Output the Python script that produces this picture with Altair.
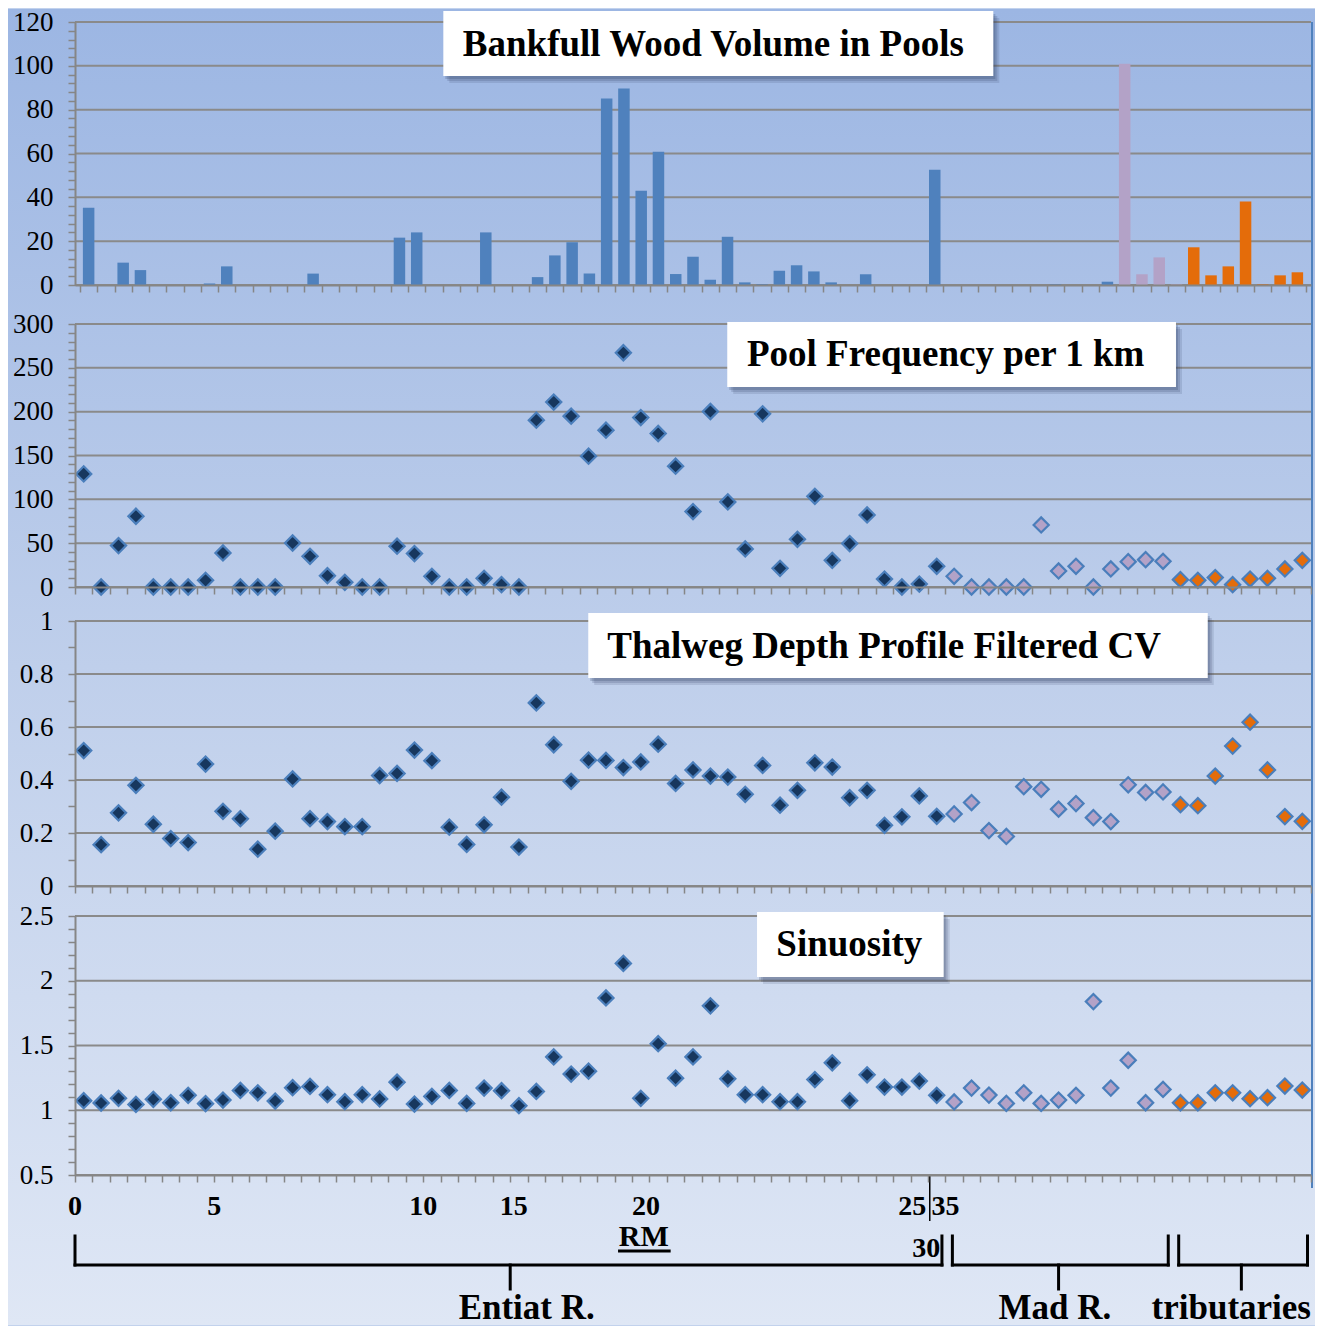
import altair as alt
import pandas as pd

# ---------------- data ----------------
N = 71
groups = ["Entiat R.", "Mad R.", "tributaries"]
group_counts = [50, 13, 8]          # points in panels 2-4
wood_group_counts = [60, 4, 7]      # bar colouring in panel 1

wood = [35.3, 0, 10.2, 6.8, 0, 0, 0, 0.7, 8.5, 0, 0, 0, 0, 5.2, 0, 0, 0, 0, 21.6, 24.0,
        0, 0, 0, 24.0, 0, 0, 3.6, 13.5, 19.5, 5.2, 85.1, 89.7, 43.0, 60.8, 5.0, 12.9, 2.4, 22.0, 1.2, 0.4,
        6.5, 9.0, 6.2, 1.2, 0, 4.9, 0, 0, 0, 52.6, 0, 0, 0, 0, 0, 0, 0.3, 0, 0, 1.5,
        101.0, 4.9, 12.6, 0.3, 17.2, 4.4, 8.5, 38.1, 0.3, 4.4, 5.8]

pools = [129, 0, 47.2, 80.7, 0, 0, 0, 7.6, 38.8, 0, 0, 0, 50.2, 35.0, 12.9, 5.3, 0, 0, 46.5, 38.1,
         12.2, 0, 0, 9.9, 2.7, 0, 190.3, 211, 194.9, 149.2, 178.9, 267.2, 193.3, 175.1, 137.8, 86.0, 200.2, 97.1, 43.4, 197.5,
         21.3, 54.4, 103.5, 30.4, 49.5, 82.2, 9.1, 0, 3.4, 23.6, 12.2, 0, 0, 0, 0, 70.8, 18.3, 23.6, 0, 20.6,
         28.9, 31.2, 29.3, 8.4, 7.6, 10.7, 2.7, 9.1, 9.9, 20.6, 30.4]

cv = [0.511, 0.156, 0.276, 0.380, 0.233, 0.179, 0.164, 0.460, 0.282, 0.254, 0.139, 0.207, 0.404, 0.254, 0.243, 0.224, 0.224, 0.417, 0.425, 0.513,
      0.473, 0.222, 0.157, 0.231, 0.335, 0.147, 0.691, 0.533, 0.395, 0.475, 0.474, 0.447, 0.468, 0.535, 0.387, 0.438, 0.415, 0.411, 0.346, 0.455,
      0.305, 0.361, 0.465, 0.449, 0.333, 0.361, 0.229, 0.261, 0.340, 0.263, 0.272, 0.315, 0.209, 0.187, 0.375, 0.365, 0.290, 0.311, 0.258, 0.243,
      0.382, 0.353, 0.355, 0.307, 0.303, 0.415, 0.528, 0.618, 0.438, 0.262, 0.244]

sinu = [1.074, 1.056, 1.092, 1.045, 1.084, 1.058, 1.115, 1.051, 1.079, 1.153, 1.135, 1.071, 1.174, 1.184, 1.120, 1.066, 1.120, 1.087, 1.217, 1.048,
        1.107, 1.153, 1.053, 1.171, 1.151, 1.035, 1.145, 1.412, 1.279, 1.302, 1.867, 2.134, 1.092, 1.514, 1.248, 1.412, 1.806, 1.243, 1.120, 1.120,
        1.066, 1.066, 1.237, 1.366, 1.074, 1.274, 1.179, 1.179, 1.225, 1.115, 1.064, 1.171, 1.117, 1.053, 1.135, 1.053, 1.079, 1.115, 1.839, 1.171,
        1.386, 1.058, 1.161, 1.058, 1.058, 1.135, 1.135, 1.089, 1.097, 1.187, 1.156]

rm_labels = ["0", "5", "10", "15", "20", "25", "35"]
rm_pos = [0, 8, 20, 25.2, 32.8, 48.1, 50.0]
rm_low_labels = ["30"]
rm_low_pos = [48.9]
rm_break = [49.1]

titles = ["Bankfull Wood Volume in Pools", "Pool Frequency per 1 km",
          "Thalweg Depth Profile Filtered CV", "Sinuosity"]

p1_ticks = list(range(0, 121, 4)); p1_major = list(range(0, 121, 20))
p2_ticks = list(range(0, 301, 10)); p2_major = list(range(0, 301, 50))
p3_ticks = [round(0.1 * k, 1) for k in range(11)]; p3_major = [0, 0.2, 0.4, 0.6, 0.8, 1]
p4_ticks = [round(0.5 + 0.1 * k, 1) for k in range(21)]; p4_major = [0.5, 1, 1.5, 2, 2.5]

# ---------------- style / layout ----------------
W = 1236
RF = 1245.0
GAP = 30
T1, H1 = 19, 263
T2, H2 = 312, 272
T3, H3 = 614, 269
T4, H4 = 913, 259
GRAY = "#868686"
GRID = "#8a8a8a"
EDGE = "#4a7ebb"
FONT = "Liberation Serif"
bar_colors = ["#4f81bd", "#b3a2c7", "#e46c0a"]
pt_colors = ["#17375e", "#b3a2c7", "#e46c0a"]


def X(a):
    return (a - 75) * W / RF


def expand(counts):
    out = []
    for g, c in zip(groups, counts):
        out += [g] * c
    return out


df = pd.DataFrame({"x": [i + 0.5 for i in range(N)], "wood": wood, "pools": pools,
                   "cv": cv, "sinu": sinu, "group": expand(group_counts),
                   "wgroup": expand(wood_group_counts)})
one = pd.DataFrame({"a": [0]})

xscale = alt.Scale(domain=[0, N], nice=False, zero=False)


def xaxis():
    return alt.Axis(values=list(range(N + 1)), labels=False, title=None, grid=False,
                    tickSize=7, tickColor=GRAY, tickWidth=1.5, domainColor=GRAY,
                    domainWidth=2, zindex=1)


def yaxis(ticks, expr):
    return alt.Axis(values=ticks, labelExpr=expr, title=None, grid=False, tickSize=7,
                    tickColor=GRAY, tickWidth=1.5, domainColor=GRAY, domainWidth=2,
                    labelFont=FONT, labelFontSize=27, labelColor="black", labelPadding=15,
                    labelOverlap=False, labelFlush=False, zindex=1)


def grid(major, yscale, yax):
    return alt.Chart(pd.DataFrame({"g": major})).mark_rule(color=GRID, strokeWidth=2).encode(
        y=alt.Y("g:Q", scale=yscale, axis=yax), x=alt.value(0), x2=alt.value(W))


def tbox(text, x0, x1, y0, y1, xt, yt, top):
    base = alt.Chart(pd.DataFrame({"t": [text]}))
    out = []
    for off, op in [(6, 0.14), (4, 0.18), (2, 0.22)]:
        out.append(base.mark_rect(fill="#2a3a5c", opacity=op).encode(
            x=alt.value(X(x0) + off), x2=alt.value(X(x1) + off),
            y=alt.value(y0 - top + off + 1), y2=alt.value(y1 - top + off + 1)))
    out.append(base.mark_rect(fill="white").encode(
        x=alt.value(X(x0)), x2=alt.value(X(x1)), y=alt.value(y0 - top), y2=alt.value(y1 - top)))
    out.append(base.mark_text(font=FONT, fontWeight="bold", fontSize=37, color="black",
                              align="center", baseline="middle").encode(
        x=alt.value(X(xt)), y=alt.value(yt - top), text="t:N"))
    return out


def pts(field, yscale, yax):
    return alt.Chart(df).mark_point(shape="diamond", filled=True, size=230, stroke=EDGE,
                                    strokeWidth=2.2, opacity=1, fillOpacity=1).encode(
        x=alt.X("x:Q", scale=xscale, axis=xaxis()),
        y=alt.Y(field + ":Q", scale=yscale, axis=yax),
        fill=alt.Fill("group:N", scale=alt.Scale(domain=groups, range=pt_colors), legend=None))


# ---------------- panel 1 ----------------
bg = alt.Chart(one).mark_rect(
    fill=alt.LinearGradient(gradient="linear",
                            stops=[alt.GradientStop(color="#9cb6e3", offset=0),
                                   alt.GradientStop(color="#bfcfeb", offset=0.5),
                                   alt.GradientStop(color="#dfe7f5", offset=1)],
                            x1=0, x2=0, y1=0, y2=1),
    clip=False).encode(x=alt.value(-67), x2=alt.value(W + 4), y=alt.value(-13), y2=alt.value(1303))

edge = alt.Chart(one).mark_rule(color="#4f81bd", strokeWidth=2).encode(
    x=alt.value(W + 1), y=alt.value(0), y2=alt.value(1166))

y1s = alt.Scale(domain=[0, 120], nice=False)
y1a = yaxis(p1_ticks, "round(datum.value) % 20 == 0 ? format(datum.value, '~g') : ''")
bars = alt.Chart(df).mark_bar(size=11.5).encode(
    x=alt.X("x:Q", scale=xscale, axis=xaxis()),
    y=alt.Y("wood:Q", scale=y1s, axis=y1a),
    color=alt.Color("wgroup:N", scale=alt.Scale(domain=groups, range=bar_colors), legend=None))

p1 = alt.layer(bg, grid(p1_major, y1s, y1a), edge,
               *tbox(titles[0], 446, 1000, 8, 73, 718, 42, T1), bars).properties(width=W, height=H1)

# ---------------- panel 2 (data area 321..584) ----------------
y2s = alt.Scale(domain=[0, 300], nice=False, range=[H2, 321 - T2])
y2a = yaxis(p2_ticks, "round(datum.value) % 50 == 0 ? format(datum.value, '~g') : ''")
p2 = alt.layer(grid(p2_major, y2s, y2a), *tbox(titles[1], 732, 1184, 319, 384, 952, 352, T2),
               pts("pools", y2s, y2a)).properties(width=W, height=H2)

# ---------------- panel 3 (data area 618..883) ----------------
y3s = alt.Scale(domain=[0, 1], nice=False, range=[H3, 618 - T3])
y3a = yaxis(p3_ticks, "round(datum.value*10) % 2 == 0 ? format(datum.value, '~g') : ''")
p3 = alt.layer(grid(p3_major, y3s, y3a), *tbox(titles[2], 592, 1216, 610, 675, 890, 644, T3),
               pts("cv", y3s, y3a)).properties(width=W, height=H3)

# ---------------- panel 4 + river-mile annotations ----------------
y4s = alt.Scale(domain=[0.5, 2.5], nice=False, zero=False)
y4a = yaxis(p4_ticks, "round(datum.value*10) % 5 == 0 ? format(datum.value, '~g') : ''")

rm_text = alt.Chart(pd.DataFrame({"lab": rm_labels, "pos": rm_pos})).mark_text(
    font=FONT, fontWeight="bold", fontSize=28, color="black", align="center", baseline="middle").encode(
    x=alt.X("pos:Q", scale=xscale, axis=xaxis()), y=alt.value(1204 - T4), text="lab:N")
rm_low = alt.Chart(pd.DataFrame({"lab": rm_low_labels, "pos": rm_low_pos})).mark_text(
    font=FONT, fontWeight="bold", fontSize=28, color="black", align="center", baseline="middle").encode(
    x=alt.X("pos:Q", scale=xscale, axis=xaxis()), y=alt.value(1246 - T4), text="lab:N")
rm_brk = alt.Chart(pd.DataFrame({"pos": rm_break})).mark_rule(color="black", strokeWidth=1.5).encode(
    x=alt.X("pos:Q", scale=xscale, axis=xaxis()), y=alt.value(H4), y2=alt.value(1218 - T4))
rm_title = alt.Chart(pd.DataFrame({"t": ["RM"]})).mark_text(
    font=FONT, fontWeight="bold", fontSize=30, color="black", align="center", baseline="middle").encode(
    x=alt.value(X(648)), y=alt.value(1234 - T4), text="t:N")
rm_under = alt.Chart(one).mark_rule(color="black", strokeWidth=3).encode(
    x=alt.value(X(622)), x2=alt.value(X(675)), y=alt.value(1248 - T4))

starts = [sum(group_counts[:k]) for k in range(len(groups))]
ends = [s + c for s, c in zip(starts, group_counts)]
bdf = pd.DataFrame({"g": groups,
                    "l": [s + (0.4 if s > 0 else 0) for s in starts],
                    "r": [e - 0.2 for e in ends],
                    "m": [(s + e) / 2 for s, e in zip(starts, ends)]})
bb = alt.Chart(bdf)
BT, BH, BB = 1233 - T4, 1262 - T4, 1286 - T4
br_h = bb.mark_rule(color="black", strokeWidth=3, strokeCap="square").encode(
    x=alt.X("l:Q", scale=xscale, axis=xaxis()), x2="r:Q", y=alt.value(BH))
br_l = bb.mark_rule(color="black", strokeWidth=3, strokeCap="square").encode(
    x=alt.X("l:Q", scale=xscale, axis=xaxis()), y=alt.value(BT), y2=alt.value(BH))
br_r = bb.mark_rule(color="black", strokeWidth=3, strokeCap="square").encode(
    x=alt.X("r:Q", scale=xscale, axis=xaxis()), y=alt.value(BT), y2=alt.value(BH))
br_m = bb.mark_rule(color="black", strokeWidth=3, strokeCap="square").encode(
    x=alt.X("m:Q", scale=xscale, axis=xaxis()), y=alt.value(BH), y2=alt.value(BB))

LBL_Y = 1316 - T4
g_ent = alt.Chart(pd.DataFrame({"t": [groups[0]]})).mark_text(
    font=FONT, fontWeight="bold", fontSize=35, color="black", align="center", baseline="alphabetic").encode(
    x=alt.value(X(530)), y=alt.value(LBL_Y), text="t:N")
g_mad = alt.Chart(pd.DataFrame({"t": [groups[1]]})).mark_text(
    font=FONT, fontWeight="bold", fontSize=35, color="black", align="center", baseline="alphabetic").encode(
    x=alt.value(X(1062)), y=alt.value(LBL_Y), text="t:N")
g_trb = alt.Chart(pd.DataFrame({"t": [groups[2]]})).mark_text(
    font=FONT, fontWeight="bold", fontSize=35, color="black", align="right", baseline="alphabetic").encode(
    x=alt.value(W), y=alt.value(LBL_Y), text="t:N")

p4 = alt.layer(grid(p4_major, y4s, y4a), *tbox(titles[3], 762, 950, 909, 974, 855, 942, T4),
               pts("sinu", y4s, y4a),
               rm_text, rm_low, rm_brk, rm_title, rm_under, br_h, br_l, br_r, br_m,
               g_ent, g_mad, g_trb).properties(width=W, height=H4)

chart = alt.vconcat(p1, p2, p3, p4, spacing=GAP, bounds="flush").properties(
    padding=0, background="#c2d2ed").configure_view(stroke=None)

chart.save("out.html", embed_options={"renderer": "svg", "actions": False})
